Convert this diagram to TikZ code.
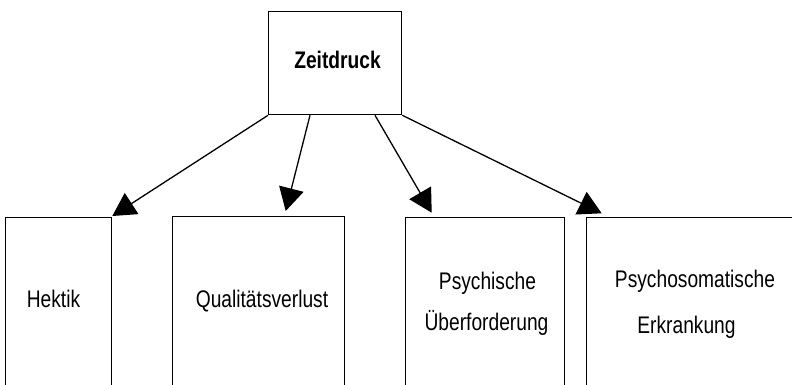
\documentclass[tikz,border=0pt]{standalone}
\usepackage{fontspec}
\setmainfont{Liberation Sans}[FakeStretch=0.8]
\usetikzlibrary{arrows.meta,calc}

\tikzset{
  box/.style={draw=black, line width=1.3pt, fill=white, rectangle, inner sep=0pt, anchor=north west},
  lbl/.style={anchor=base, inner sep=0pt, font=\fontsize{24}{28}\selectfont},
  link/.style={line width=1.3pt, -{Triangle[length=23pt,width=25pt]}}
}

\begin{document}
\begin{tikzpicture}[x=1pt,y=-1pt]
  \useasboundingbox (0,0) rectangle (792,385);
  \clip (0,0) rectangle (792,385);

  % source box
  \node[box, minimum width=133pt, minimum height=103pt] (z) at (268,11) {};
  \node[lbl, font=\fontsize{24}{28}\selectfont\bfseries] (zt) at (337.5,69) {Zeitdruck};

  % consequence boxes (they run past the lower edge)
  \node[box, minimum width=106pt, minimum height=200pt] (h) at (5,217) {};
  \node[box, minimum width=172pt, minimum height=200pt] (q) at (172,216) {};
  \node[box, minimum width=159pt, minimum height=200pt] (p) at (405,217) {};
  \node[box, minimum width=230pt, minimum height=200pt] (s) at (586,217) {};

  \node[lbl] (ht) at (53.5,307) {Hektik};
  \node[lbl] (qt) at (262,307) {Qualitätsverlust};
  \node[lbl] (pt1) at (487.5,289) {Psychische};
  \node[lbl] (pt2) at (486.5,330) {Überforderung};
  \node[lbl] (st1) at (695,287) {Psychosomatische};
  \node[lbl] (st2) at (686.5,333) {Erkrankung};

  % arrows from the source box
  \draw[link] (z.south west) -- ($(h.north east)+(0,-1)$);
  \draw[link] ($(z.south west)+(42,0)$) -- ($(q.north west)+(113.7,-5)$);
  \draw[link] ($(z.south west)+(107,0)$) -- ($(p.north west)+(26.7,-4.3)$);
  \draw[link] (z.south east) -- ($(s.north west)+(15.7,-3.7)$);
\end{tikzpicture}
\end{document}
